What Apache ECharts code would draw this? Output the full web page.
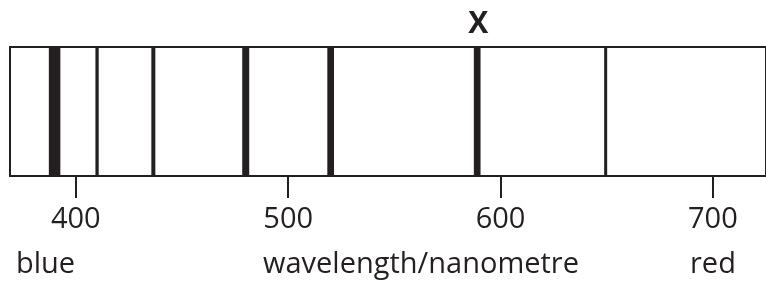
<!DOCTYPE html>
<html>
<head>
<meta charset="utf-8">
<script src="https://cdn.jsdelivr.net/npm/echarts@6/dist/echarts.min.js"></script>
<style>
html,body{margin:0;padding:0;background:#fff;}
#chart{width:766px;height:282px;}
</style>
</head>
<body>
<div id="chart"></div>
<script>
// ---- data ----
var lineWavelengths = [390, 410, 436.5, 480, 520, 589, 649.5];
var lineMarks = ['', '', '', '', '', 'X', ''];
var tickValues = [400, 500, 600, 700];
var axisMin = 369;
var axisMax = 725;
var captionLeft = 'blue';
var captionMid = 'wavelength/nanometre';
var captionRight = 'red';

// ---- style ----
var INK = '#231f20';
var FONT = '"Open Sans", "Noto Sans", sans-serif';
var lineThicknessPx = [11.5, 3.3, 4, 7, 6.7, 6.7, 3];

var chart = echarts.init(document.getElementById('chart'));
chart.setOption({
  animation: false,
  backgroundColor: '#fff',
  grid: {
    left: 10, right: -2, top: 47, bottom: 106,
    show: true, borderColor: INK, borderWidth: 2, backgroundColor: 'transparent'
  },
  xAxis: {
    type: 'value', min: axisMin, max: axisMax,
    splitLine: {show: false},
    axisLine: {show: false},
    axisTick: {show: true, customValues: tickValues, length: 22, lineStyle: {color: INK, width: 2}},
    axisLabel: {show: true, customValues: tickValues, margin: 29, color: INK, fontSize: 29, fontFamily: FONT}
  },
  yAxis: {type: 'value', min: 0, max: 1, show: false},
  series: [{
    type: 'custom',
    data: lineWavelengths.map(function (w, i) { return [w, i]; }),
    renderItem: function (params, api) {
      var i = api.value(1);
      var top = api.coord([api.value(0), 1]);
      var bot = api.coord([api.value(0), 0]);
      var w = lineThicknessPx[i];
      var children = [{
        type: 'rect',
        shape: {x: top[0] - w / 2, y: top[1], width: w, height: bot[1] - top[1]},
        style: {fill: INK}
      }];
      if (lineMarks[i]) {
        children.push({
          type: 'text',
          style: {
            text: lineMarks[i], x: top[0] + 1, y: top[1] - 23,
            align: 'center', verticalAlign: 'middle',
            fill: INK, fontSize: 30, fontWeight: 'bold', fontFamily: FONT
          }
        });
      }
      return {type: 'group', children: children};
    }
  }],
  graphic: [
    {type: 'text', left: 16, top: 250, style: {text: captionLeft, fill: INK, fontSize: 29, fontFamily: FONT}},
    {type: 'text', left: 263, top: 250, style: {text: captionMid, fill: INK, fontSize: 29, fontFamily: FONT}},
    {type: 'text', left: 690, top: 250, style: {text: captionRight, fill: INK, fontSize: 29, fontFamily: FONT}}
  ]
});
</script>
</body>
</html>
